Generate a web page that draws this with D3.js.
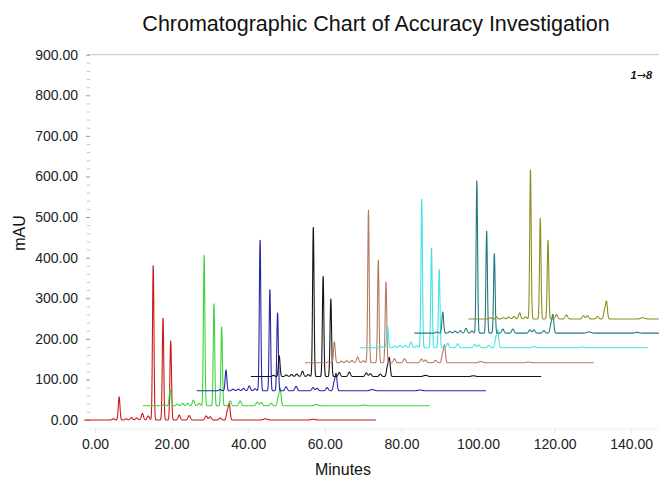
<!DOCTYPE html>
<html>
<head>
<meta charset="utf-8">
<script src="https://cdn.jsdelivr.net/npm/d3@7"></script>
<style>
  html, body { margin: 0; padding: 0; background: #fff; }
  svg { display: block; font-family: "Liberation Sans", Arial, sans-serif; }
</style>
</head>
<body>
<svg id="chart" width="659" height="477"></svg>
<script>
// ---- Run data: 8 overlaid chromatograms, each offset in time and response ----
const traceNames = ["1", "2", "3", "4", "5", "6", "7", "8"];
const traceColors = ["#cc1818", "#3fd23f", "#2626a8", "#141414", "#b57a62", "#45e3e3", "#237a80", "#8e8e22"];
// run window (minutes) and baseline offset (mAU) of each trace
const traceStart = [-2.9, 12.5, 26.6, 40.7, 54.8, 69.2, 83.4, 97.5];
const traceEnd = [73.4, 87.4, 102.1, 116.5, 130.3, 144.3, 152, 152];
const traceBaseline = [0, 35, 72, 107, 141, 178, 214, 249];
// retention time of the first main peak in each trace (minutes)
const mainPeakTime = [15.2, 28.5, 43.1, 57.0, 71.4, 85.3, 99.7, 113.7];

// peak positions relative to the first main peak (minutes) and their widths
const peakShift = [-10.4, -8.9, -7.05, -5.67, -4.31, -2.82, -1.3, 0, 2.56, 4.57, 6.79, 9.40, 13.84, 14.89, 17.5, 19.33, 19.85, 29.3, 41.8];
const peakWidth = [0.3, 0.22, 0.3, 0.3, 0.3, 0.28, 0.3, 0.19, 0.19, 0.2, 0.28, 0.3, 0.3, 0.3, 0.3, 0.24, 0.24, 0.5, 0.5];

// peak heights above each trace's baseline (mAU)
const heights1 = [3, 57, 3, 6, 5, 16, 10, 382, 252, 195, 12, 11, 10, 8, 5, 20, 39, 3, 2];
const heights2 = [3, 40, 4, 6, 6, 14, 6, 371, 251, 194, 12, 12, 9, 8, 6, 20, 42, 3, 2];
const heights3 = [3, 51, 4, 4, 6, 12, 5, 373, 250, 192, 10, 11, 8, 6, 8, 20, 41, 3, 2];
const heights4 = [3, 51, 4, 5, 6, 13, 5, 369, 248, 191, 10, 11, 9, 7, 6, 22, 45, 3, 2];
const heights5 = [3, 52, 4, 5, 6, 14, 5, 376, 253, 200, 10, 10, 9, 7, 6, 20, 42, 3, 2];
const heights6 = [3, 52, 4, 6, 6, 14, 5, 368, 247, 193, 11, 10, 8, 7, 6, 22, 42, 3, 2];
const heights7 = [3, 52, 4, 5, 6, 12, 5, 377, 252, 196, 10, 10, 8, 8, 6, 20, 44, 3, 2];
const heights8 = [3, 6, 3, 5, 6, 15, 5, 367, 248, 194, 11, 10, 8, 8, 6, 21, 42, 3, 2];
const traceHeights = [heights1, heights2, heights3, heights4, heights5, heights6, heights7, heights8];

// axis ticks
const yTicks = [0, 100, 200, 300, 400, 500, 600, 700, 800, 900];
const xTicks = [0, 20, 40, 60, 80, 100, 120, 140];

// ---- Layout ----
const svg = d3.select("#chart");
const W = 659, H = 477;
const plotLeft = 88;

const x = d3.scaleLinear().domain([0, 140]).range([95, 95 + 140 * 3.83]);
const y = d3.scaleLinear().domain([0, 900]).range([420, 54.7]);

svg.append("rect").attr("width", W).attr("height", H).attr("fill", "#fff");

// title
svg.append("text")
  .attr("x", 376).attr("y", 31)
  .attr("text-anchor", "middle")
  .attr("font-size", 21.5)
  .attr("fill", "#111")
  .text("Chromatographic Chart of Accuracy Investigation");

// top frame line at the 900 level
svg.append("line")
  .attr("x1", plotLeft).attr("x2", W)
  .attr("y1", y(900)).attr("y2", y(900))
  .attr("stroke", "#c8c8c8").attr("stroke-width", 1);

// bottom baseline of the time axis
const xAxisY = 429;
svg.append("line")
  .attr("x1", plotLeft).attr("x2", W)
  .attr("y1", xAxisY).attr("y2", xAxisY)
  .attr("stroke", "#ececec").attr("stroke-width", 1);

// minor y ticks
const yMinor = d3.range(0, 901, 20).filter(v => v % 100 !== 0);
svg.append("g")
  .attr("transform", `translate(90,0)`)
  .call(d3.axisLeft(y).tickValues(yMinor).tickSize(3).tickFormat(""))
  .call(g => g.select(".domain").remove())
  .call(g => g.selectAll("line").attr("stroke", "#c4c4c4"));

// major y ticks with labels
svg.append("g")
  .attr("transform", `translate(90,0)`)
  .call(d3.axisLeft(y).tickValues(yTicks).tickSize(4).tickPadding(8).tickFormat(d3.format(".2f")))
  .call(g => g.select(".domain").remove())
  .call(g => g.selectAll("line").attr("stroke", "#9a9a9a"))
  .call(g => g.selectAll("text")
    .attr("font-size", 14)
    .attr("font-family", "Liberation Sans, Arial, sans-serif")
    .attr("fill", "#222"));

// x ticks with labels
svg.append("g")
  .attr("transform", `translate(0,${xAxisY})`)
  .call(d3.axisBottom(x).tickValues(xTicks).tickSize(4).tickPadding(6).tickFormat(d3.format(".2f")))
  .call(g => g.select(".domain").remove())
  .call(g => g.selectAll("line").attr("stroke", "#e4e4e4"))
  .call(g => g.selectAll("text")
    .attr("font-size", 14)
    .attr("font-family", "Liberation Sans, Arial, sans-serif")
    .attr("fill", "#222"));

// axis titles
svg.append("text")
  .attr("transform", "translate(25,233) rotate(-90)")
  .attr("text-anchor", "middle")
  .attr("font-size", 16)
  .attr("fill", "#111")
  .text("mAU");

svg.append("text")
  .attr("x", 343).attr("y", 475)
  .attr("text-anchor", "middle")
  .attr("font-size", 16)
  .attr("fill", "#111")
  .text("Minutes");

// run order note
const note = svg.append("text")
  .attr("x", 652).attr("y", 79)
  .attr("text-anchor", "end")
  .attr("font-size", 11)
  .attr("font-weight", "bold")
  .attr("font-style", "italic")
  .attr("fill", "#111");
note.append("tspan").text("1");
note.append("tspan").attr("font-family", "DejaVu Sans, sans-serif").attr("font-weight", "normal").attr("font-style", "normal").text("\u2192");
note.append("tspan").text("8");

// ---- Traces ----
svg.append("clipPath").attr("id", "plotClip")
  .append("rect").attr("x", plotLeft - 6).attr("y", 0).attr("width", W).attr("height", 432);

// build a signal for one trace as a sum of Gaussian peaks on its baseline
function traceSignal(i) {
  const t0 = traceStart[i], t1 = traceEnd[i];
  const pts = [];
  const step = 0.04;
  for (let t = t0; t <= t1 + 1e-9; t += step) {
    let v = traceBaseline[i];
    traceHeights[i].forEach((h, k) => {
      const c = mainPeakTime[i] + peakShift[k];
      const s = peakWidth[k];
      const d = (t - c) / s;
      if (Math.abs(d) < 6) v += h * Math.exp(-0.5 * d * d);
    });
    pts.push([t, v]);
  }
  return pts;
}

const line = d3.line().x(d => x(d[0])).y(d => y(d[1]));

const traces = svg.append("g").attr("clip-path", "url(#plotClip)");
traceNames.forEach((name, i) => {
  traces.append("path")
    .datum(traceSignal(i))
    .attr("class", "trace trace-" + name)
    .attr("fill", "none")
    .attr("stroke", traceColors[i])
    .attr("stroke-width", 1.1)
    .attr("stroke-linejoin", "round")
    .attr("d", line);
});
</script>
</body>
</html>
